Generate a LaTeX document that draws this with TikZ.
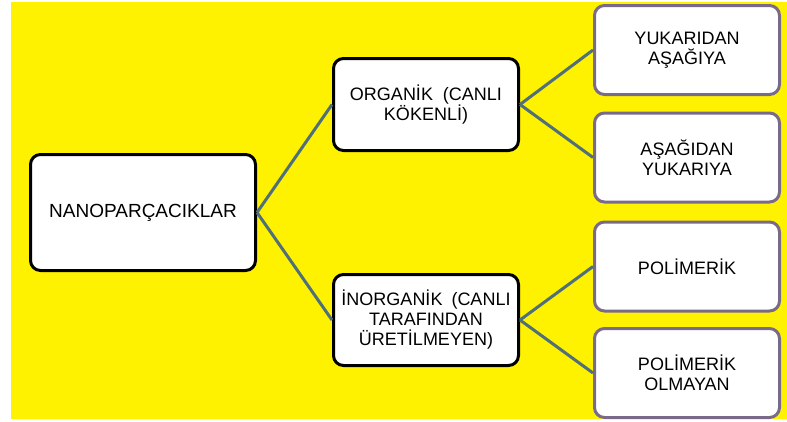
\documentclass[tikz,border=0pt]{standalone}
\usepackage{xcolor}
\usepackage{fontspec}
\setmainfont{Liberation Sans}
\usepackage{tikz}
\definecolor{linkgray}{HTML}{4F7078}
\definecolor{leafframe}{HTML}{7A6A8A}

\begin{document}
\begin{tikzpicture}[x=1pt,y=-1pt,line join=round,
                    main box/.style={rectangle,rounded corners=10pt,draw=black,line width=3pt,
                                     fill=white,align=center,font=\fontsize{18}{20}\selectfont},
                    leaf box/.style={main box,draw=leafframe,minimum width=185pt,minimum height=89pt}]

  \useasboundingbox (0,0) rectangle (787,421);
  \fill[yellow] (11,2) rectangle (787,419);

  \node[main box,minimum width=225pt,minimum height=116pt,font=\fontsize{19}{21}\selectfont] (nano) at (143,212.5) {NANOPARÇACIKLAR};
  \node[main box,minimum width=185pt,minimum height=92pt] (org) at (426,104.5) {ORGANİK~~(CANLI\\KÖKENLİ)};
  \node[main box,minimum width=185pt,minimum height=91pt] (inorg) at (426,320) {İNORGANİK\hspace{9pt}(CANLI\\TARAFINDAN\\ÜRETİLMEYEN)};

  \node[leaf box] (top) at (687,50) {YUKARIDAN\\AŞAĞIYA};
  \node[leaf box] (bottom) at (687,157.5) {AŞAĞIDAN\\YUKARIYA};
  \node[leaf box] (poly) at (687,266.5) {POLİMERİK};
  \node[leaf box] (nonpoly) at (687,373) {POLİMERİK\\OLMAYAN};

  \path[draw=linkgray,line width=3pt]
    (nano.east) edge (org.west)
    (nano.east) edge (inorg.west)
    (org.east) edge (top.west)
    (org.east) edge (bottom.west)
    (inorg.east) edge (poly.west)
    (inorg.east) edge (nonpoly.west);
\end{tikzpicture}
\end{document}
